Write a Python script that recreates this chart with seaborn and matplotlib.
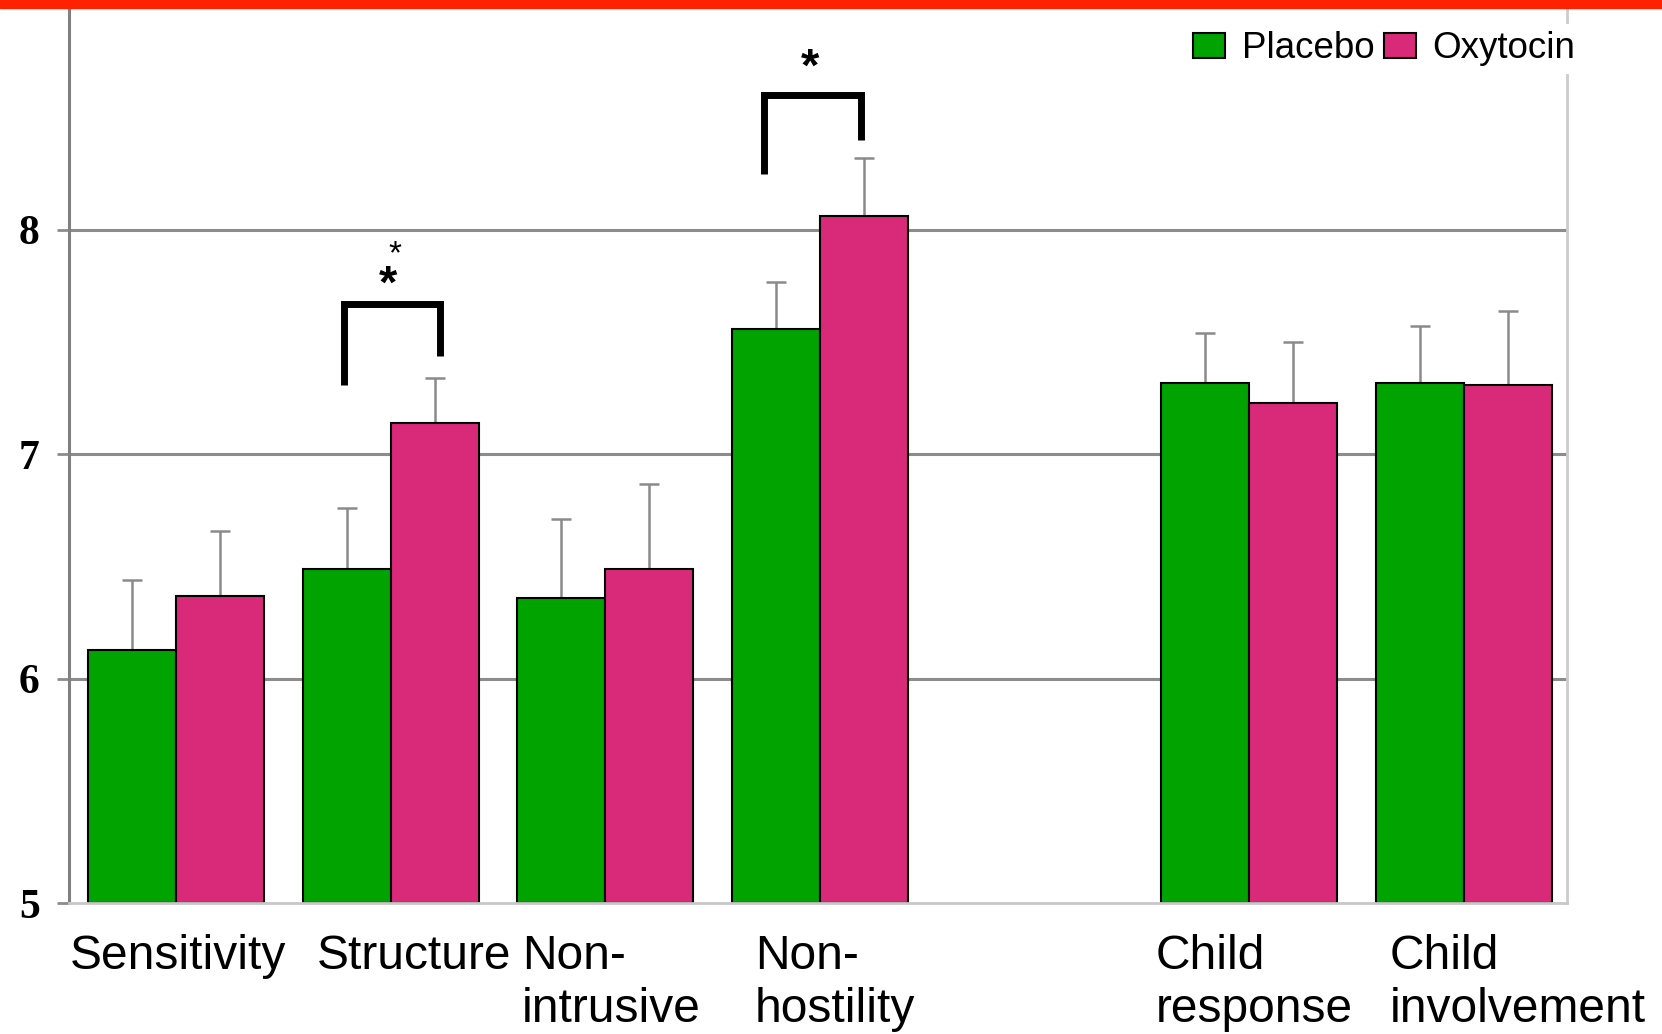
import numpy as np
import pandas as pd
import seaborn as sns
import matplotlib.pyplot as plt
from matplotlib.patches import Rectangle, Patch
from matplotlib.transforms import ScaledTranslation

categories = ["Sensitivity", "Structure", "Non-\nintrusive", "Non-\nhostility",
              "Child\nresponse", "Child\ninvolvement"]
groups = ["Placebo", "Oxytocin"]
placebo = [6.13, 6.49, 6.36, 7.56, 7.32, 7.32]
oxytocin = [6.37, 7.14, 6.49, 8.06, 7.23, 7.31]
placebo_err = [0.31, 0.27, 0.35, 0.21, 0.22, 0.25]
oxytocin_err = [0.29, 0.20, 0.38, 0.26, 0.27, 0.33]
yticks = [5, 6, 7, 8]

colors = {"Placebo": "#00a300", "Oxytocin": "#d92979"}

df = pd.DataFrame({
    "category": categories * 2,
    "group": ["Placebo"] * len(categories) + ["Oxytocin"] * len(categories),
    "value": placebo + oxytocin,
})
# empty slot between the mother and child measures
order = categories[:4] + [" "] + categories[4:]

sns.set_style("white")
plt.rcParams["font.family"] = ["Liberation Sans", "DejaVu Sans"]
plt.rcParams["text.color"] = "black"
plt.rcParams["xtick.color"] = "black"
plt.rcParams["ytick.color"] = "black"

fig = plt.figure(figsize=(16.62, 10.34), dpi=100)
ax = fig.add_axes([0.0415, 0.1266, 0.9012, 0.868])

for y in yticks[1:]:
    ax.axhline(y, color="#8c8c8c", linewidth=2.2, zorder=0)

sns.barplot(df, x="category", y="value", hue="group", order=order,
            hue_order=groups, palette=colors, width=0.82, edgecolor="black",
            linewidth=1.5, saturation=1, legend=False, ax=ax, zorder=2)

errs = {"Placebo": placebo_err, "Oxytocin": oxytocin_err}
for container, g in zip(ax.containers, groups):
    for bar, e in zip(container, errs[g]):
        h = bar.get_height()
        bar.set_y(yticks[0])
        bar.set_height(h - yticks[0])
        xc = bar.get_x() + bar.get_width() / 2
        ax.errorbar(xc, h, yerr=[[0], [e]], color="#8a8a8a", elinewidth=1.8,
                    capsize=7, capthick=1.8, zorder=1)

# significance brackets
brackets = [((0.78, 7.31), (0.78, 7.67), (1.23, 7.67), (1.23, 7.44)),
            ((2.74, 8.25), (2.74, 8.60), (3.19, 8.60), (3.19, 8.40))]
for pts in brackets:
    xs, ys = zip(*pts)
    ax.plot(xs, ys, color="black", linewidth=5, solid_capstyle="butt",
            solid_joinstyle="miter", zorder=3)
ax.text(0.985, 7.75, "*", fontsize=34, fontweight="bold", ha="center", va="center")
ax.text(1.02, 7.89, "*", fontsize=24, ha="center", va="center")
ax.text(2.955, 8.72, "*", fontsize=34, fontweight="bold", ha="center", va="center")

ax.set_xlim(-0.5, 6.48)
ax.set_ylim(5, 9)
ax.set_yticks(yticks)
ax.set_yticklabels([str(t) for t in yticks], fontfamily="Liberation Serif",
                   fontweight="bold", fontsize=30)
ax.tick_params(axis="y", direction="out", length=9, width=2, color="#8c8c8c",
               labelcolor="black", pad=12, left=True)
ax.set_xticks([order.index(c) for c in categories])
ax.set_xticklabels(categories, fontsize=34.5, multialignment="left", linespacing=1.25)
ax.tick_params(axis="x", length=0, pad=22, labelcolor="black")
offsets = [2, 23, 6, 15, 5, 54]
for lbl, dx in zip(ax.get_xticklabels(), offsets):
    lbl.set_transform(lbl.get_transform() + ScaledTranslation(dx / 100, 0, fig.dpi_scale_trans))
ax.set_xlabel("")
ax.set_ylabel("")

ax.spines["top"].set_visible(False)
ax.spines["left"].set_color("#808080")
ax.spines["left"].set_linewidth(2.2)
ax.spines["bottom"].set_color("#c8c8c8")
ax.spines["bottom"].set_linewidth(2)
ax.spines["right"].set_color("#cccccc")
ax.spines["right"].set_linewidth(2)

handles = [Patch(facecolor=colors[g], edgecolor="black", linewidth=1.5) for g in groups]
fig.legend(handles, groups, loc="upper left", bbox_to_anchor=(1186 / 1662, 1 - 24 / 1034),
           ncol=2, fontsize=26.5, frameon=True, facecolor="white", edgecolor="none",
           framealpha=1, borderpad=0.2, borderaxespad=0, handlelength=0.87,
           handleheight=0.65, handletextpad=0.45, columnspacing=0.25,
           labelcolor="black")

fig.patches.append(Rectangle((0, 1 - 8 / 1034), 1, 8 / 1034, transform=fig.transFigure,
                             color="#ff2200", zorder=10))

fig.savefig("out.png", dpi=100)
